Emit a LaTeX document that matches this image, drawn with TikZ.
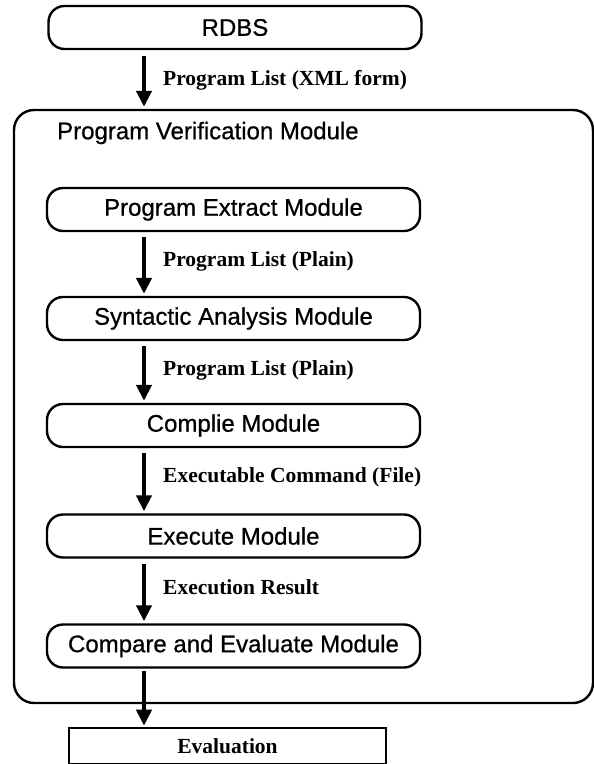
\documentclass[tikz,border=0pt]{standalone}
\usepackage{fontspec}
\setmainfont{Liberation Serif}
\setsansfont{Liberation Sans}
\newfontfamily\modfont{Liberation Sans}[FakeBold=0.7]
\usetikzlibrary{arrows.meta}
\begin{document}
\begin{tikzpicture}[x=1pt,y=-1pt,
  module/.style={draw, line width=2.4pt, rounded corners=16pt,
    minimum width=373pt, minimum height=43pt, inner sep=0pt,
    font=\modfont\fontsize{24}{28}\selectfont},
  frame/.style={draw, line width=2.4pt, rounded corners=20pt, inner sep=0pt},
  resultbox/.style={draw, line width=2.6pt, inner sep=0pt,
    font=\bfseries\fontsize{21.5}{26}\selectfont},
  flow/.style={line width=4pt, -{Triangle[width=15pt,length=16pt]},
    shorten <=5pt, shorten >=2pt},
  lbl/.style={anchor=west, inner sep=0pt,
    font=\bfseries\fontsize{21.5}{26}\selectfont},
  title/.style={anchor=west, inner sep=0pt,
    font=\modfont\fontsize{24}{28}\selectfont}]
\useasboundingbox (0,0) rectangle (594,764);

% column of the arrows
\coordinate (ax) at (144,0);

% source database
\node[module] (rdbs) at (235,27.5) {RDBS};

% verification module frame and its title
\node[frame, minimum width=579pt, minimum height=593pt] (pvm) at (303.5,406.5) {};
\node[title] (pvmtitle) at (57,133) {Program Verification Module};

% processing stages
\node[module] (extract) at (233.5,209.5) {Program Extract Module};
\node[module] (syntax)  at (233.5,318.5) {Syntactic Analysis Module};
\node[module] (compile) at (233.5,425.5) {Complie Module};
\node[module] (execute) at (233.5,536)   {Execute Module};
\node[module] (compare) at (233.5,646)   {Compare and Evaluate Module};

% final result
\node[resultbox, minimum width=317pt, minimum height=36pt] (eval) at (227.5,746) {Evaluation};

% data flow
\draw[flow, shorten <=6pt] (rdbs.south -| ax) -- (pvm.north -| ax);
\draw[flow] (extract.south -| ax) -- (syntax.north -| ax);
\draw[flow] (syntax.south -| ax)  -- (compile.north -| ax);
\draw[flow] (compile.south -| ax) -- (execute.north -| ax);
\draw[flow] (execute.south -| ax) -- (compare.north -| ax);
\draw[flow, shorten <=2pt, shorten >=1pt] (compare.south -| ax) -- (eval.north -| ax);

% flow labels
\node[lbl] (l1) at (163,80)  {Program List (XML form)};
\node[lbl] (l2) at (163,261) {Program List (Plain)};
\node[lbl] (l3) at (163,370) {Program List (Plain)};
\node[lbl] (l4) at (163,477) {Executable Command (File)};
\node[lbl] (l5) at (163,587) {Execution Result};
\end{tikzpicture}
\end{document}
